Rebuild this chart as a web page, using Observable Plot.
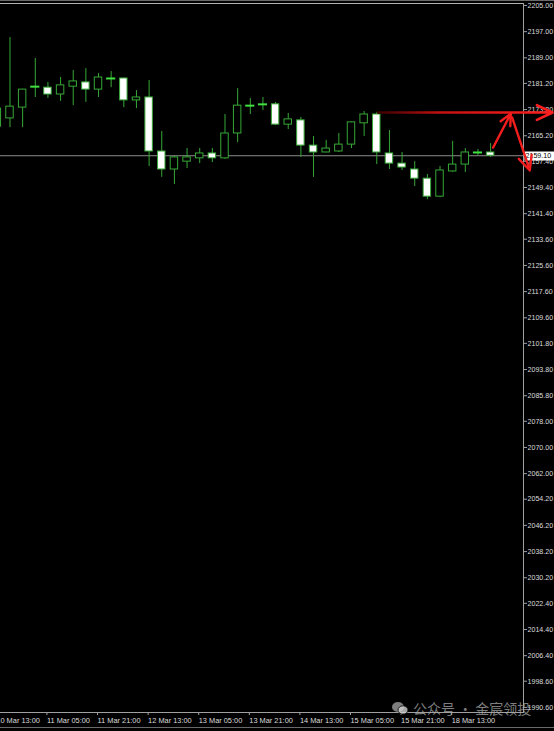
<!DOCTYPE html>
<html><head><meta charset="utf-8">
<script src="https://cdn.jsdelivr.net/npm/d3@7"></script>
<script src="https://cdn.jsdelivr.net/npm/@observablehq/plot@0.6"></script>
<style>
html,body{margin:0;padding:0;background:#000;}
#wrap{position:relative;width:554px;height:731px;overflow:hidden;background:#000;}
#wrap svg{display:block;}
#topline{position:absolute;left:0;top:0;width:554px;height:1px;background:#6a6a6a;}
#botline{position:absolute;left:0;top:727px;width:554px;height:1px;background:#6a6a6a;}
#wm{position:absolute;left:392px;top:700px;font-family:"Noto Sans CJK SC";font-size:14px;line-height:16px;color:rgba(175,175,175,0.72);white-space:nowrap;display:flex;align-items:center;gap:5px;}
</style></head><body>
<div id="wrap"><div id="topline"></div><div id="botline"></div></div>
<script>
// H4 candles, index 0 = 10 Mar 13:00
const idx   = [0,1,2,3,4,5,6,7,8,9,10,11,12,13,14,15,16,17,18,19,20,21,22,23,24,25,26,27,28,29,30,31,32,33,34,35,36,37,38,39];
const open  = [2168.0,2170.5,2173.8,2180.2,2179.9,2177.8,2180.2,2181.5,2179.3,2182.7,2182.7,2176.0,2176.9,2160.4,2154.9,2157.3,2158.3,2159.8,2158.3,2165.9,2174.4,2174.8,2174.8,2168.6,2169.9,2162.2,2160.1,2160.4,2162.5,2169.0,2171.7,2159.8,2156.7,2154.9,2152.1,2146.6,2154.3,2156.4,2160.1,2160.1];
const high  = [2174.4,2195.2,2179.4,2188.8,2181.5,2183.0,2185.1,2185.7,2184.2,2184.8,2182.8,2179.0,2182.1,2166.5,2158.9,2161.3,2161.3,2161.3,2171.7,2179.6,2176.6,2176.9,2175.4,2172.0,2170.8,2165.0,2163.8,2165.9,2169.4,2172.6,2172.3,2166.8,2160.1,2157.3,2153.4,2155.8,2163.5,2161.3,2161.0,2162.8];
const low   = [2167.4,2167.7,2167.7,2176.9,2176.6,2175.7,2174.4,2175.4,2176.9,2179.9,2173.8,2173.5,2155.8,2152.5,2150.3,2155.2,2156.7,2157.0,2158.0,2163.1,2171.7,2172.9,2168.3,2167.1,2158.6,2152.5,2160.0,2160.1,2161.3,2165.0,2156.4,2154.9,2154.6,2149.7,2145.7,2146.3,2154.0,2154.0,2159.2,2158.6];
const close = [2173.5,2174.1,2179.3,2180.2,2177.8,2180.6,2181.8,2179.3,2183.0,2182.7,2176.0,2176.9,2160.4,2154.9,2158.6,2158.6,2159.8,2158.3,2165.9,2174.4,2174.4,2174.8,2168.6,2170.2,2162.2,2160.1,2161.3,2162.5,2169.3,2171.7,2160.1,2156.7,2155.5,2152.1,2146.6,2154.6,2156.4,2160.1,2160.1,2159.1];

const xTicks  = [0,4,8,12,16,20,24,28,32,36];
const xLabels = ["10 Mar 13:00","11 Mar 05:00","11 Mar 21:00","12 Mar 13:00","13 Mar 05:00","13 Mar 21:00","14 Mar 13:00","15 Mar 05:00","15 Mar 21:00","18 Mar 13:00"];
const yTicks  = [2205.00,2197.00,2189.00,2181.20,2173.20,2165.20,2157.40,2149.40,2141.40,2133.60,2125.60,2117.60,2109.60,2101.80,2093.80,2085.80,2078.00,2070.00,2062.00,2054.20,2046.20,2038.20,2030.20,2022.40,2014.40,2006.40,1998.60,1990.60];

// annotation arrows (drawn on the picture): [index, price]
const arrowX1 = [30.1, 39.2, 40.7];
const arrowY1 = [2172.3, 2161.6, 2170.8];
const arrowX2 = [43.9, 40.6, 42.1];
const arrowY2 = [2172.3, 2172.0, 2154.6];

const candles = idx.map((i, k) => ({i, open: open[k], high: high[k], low: low[k], close: close[k]}));
const bodies = candles.filter(d => d.open !== d.close);
const dojis  = candles.filter(d => d.open === d.close);
const last = candles[candles.length - 1].close;
const arrows = arrowX1.map((x, k) => ({x1: x, y1: arrowY1[k], x2: arrowX2[k], y2: arrowY2[k]}));

const GREEN = "#36a836";

const chart = Plot.plot({
  width: 554, height: 731,
  marginLeft: 0, marginRight: 31, marginTop: 3, marginBottom: 19,
  style: {background: "#000", color: "#d6d6d6", fontFamily: "Liberation Sans, Arial, sans-serif", fontSize: "7.5px"},
  x: {domain: [0.25, 41.6]},
  y: {domain: [1989.05, 2205.6]},
  marks: [
    Plot.ruleY([last], {stroke: "#8c8c8c", strokeWidth: 1}),
    Plot.ruleX(candles, {x: "i", y1: "low", y2: "high", stroke: GREEN, strokeWidth: 1}),
    Plot.rect(bodies, {
      x1: d => d.i - 0.5, x2: d => d.i + 0.5, y1: "open", y2: "close",
      insetLeft: 2.6, insetRight: 2.6,
      fill: d => d.close < d.open ? "#ffffff" : "#000000",
      stroke: GREEN, strokeWidth: 1
    }),
    Plot.ruleY(dojis, {y: "close", x1: d => d.i - 0.36, x2: d => d.i + 0.36, stroke: "#3fe03f", strokeWidth: 2}),
    Plot.frame({anchor: "top", stroke: "#b0b0b0"}),
    Plot.frame({anchor: "bottom", stroke: "#a0a0a0"}),
    Plot.frame({anchor: "right", stroke: "#a0a0a0"}),
    Plot.axisY({anchor: "right", ticks: yTicks, tickSize: 3, tickPadding: 1, tickFormat: d => d.toFixed(2), label: null, stroke: "#a0a0a0", fill: "#dcdcdc", fontSize: 7.1}),
    Plot.axisX({anchor: "bottom", ticks: xTicks, tickSize: 3, tickPadding: 2, tickFormat: i => xLabels[xTicks.indexOf(i)], textAnchor: "start", dx: -1, label: null, stroke: "#a0a0a0", fill: "#dcdcdc", fontSize: 7.4}),
    Plot.text([last], {y: d => d, frameAnchor: "right", textAnchor: "start", dx: 2, text: d => d.toFixed(2), fill: "#000", fontSize: 7.1}),
    Plot.arrow(arrows.slice(0, 1), {x1: "x1", y1: "y1", x2: "x2", y2: "y2", stroke: "url(#redfade)", strokeWidth: 2.6, headLength: 10, headAngle: 50}),
    Plot.arrow(arrows.slice(1), {x1: "x1", y1: "y1", x2: "x2", y2: "y2", stroke: "#f21d1d", strokeWidth: 2.4, headLength: 10, headAngle: 50})
  ]
});

// gradient for the horizontal arrow, placed through the x scale
const xs = chart.scale("x");
const defs = d3.select(chart).insert("defs", ":first-child");
const grad = defs.append("linearGradient").attr("id", "redfade").attr("gradientUnits", "userSpaceOnUse")
  .attr("x1", xs.apply(arrowX1[0])).attr("x2", xs.apply(arrowX2[0])).attr("y1", 0).attr("y2", 0);
grad.append("stop").attr("offset", 0).attr("stop-color", "#3a0000");
grad.append("stop").attr("offset", 0.35).attr("stop-color", "#c41010");
grad.append("stop").attr("offset", 1).attr("stop-color", "#ff2020");

document.getElementById("wrap").appendChild(chart);

// white box behind the current price label (same local frame as the text)
d3.select(chart).selectAll("text").filter(function(){ return this.textContent === last.toFixed(2); }).each(function(){
  const b = this.getBBox();
  const r = document.createElementNS("http://www.w3.org/2000/svg", "rect");
  const t = this.getAttribute("transform");
  if (t) r.setAttribute("transform", t);
  r.setAttribute("x", b.x - 1); r.setAttribute("y", b.y - 0.5);
  r.setAttribute("width", 31 - b.x + 1); r.setAttribute("height", b.height + 1);
  r.setAttribute("fill", "#ffffff");
  this.parentNode.insertBefore(r, this);
});

// watermark
const wm = document.createElement("div");
wm.id = "wm";
wm.innerHTML = '<svg width="16" height="14" viewBox="0 0 16 14"><ellipse cx="6" cy="6" rx="6" ry="5" fill="rgba(175,175,175,0.72)"/><ellipse cx="11" cy="9" rx="5" ry="4.2" fill="rgba(210,210,210,0.8)" stroke="#000" stroke-width="0.8"/></svg><span>公众号 · 金宸领投</span>';
document.getElementById("wrap").appendChild(wm);
</script>
</body></html>
